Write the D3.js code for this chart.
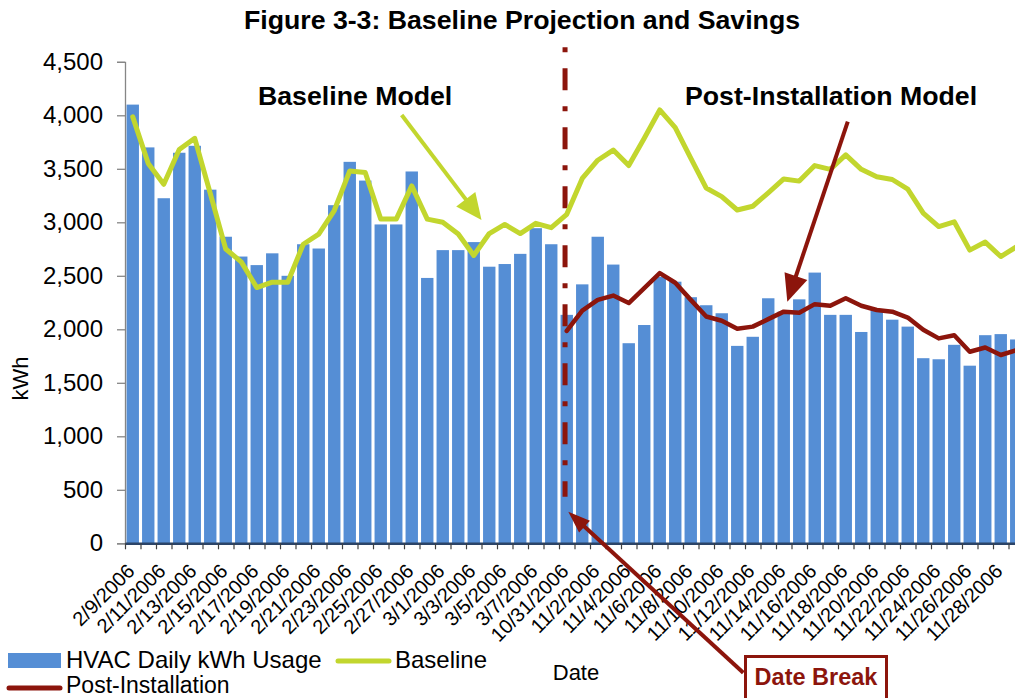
<!DOCTYPE html>
<html>
<head>
<meta charset="utf-8">
<script src="https://cdn.jsdelivr.net/npm/d3@7/dist/d3.min.js"></script>
<style>
  html, body { margin: 0; padding: 0; background: #fff; }
  svg { display: block; font-family: "Liberation Sans", Arial, sans-serif; }
</style>
</head>
<body>
<svg id="chart" width="1015" height="698"></svg>
<script>
// ---- Data ----
const dates = [
  "2/9/2006","2/10/2006","2/11/2006","2/12/2006","2/13/2006","2/14/2006","2/15/2006","2/16/2006",
  "2/17/2006","2/18/2006","2/19/2006","2/20/2006","2/21/2006","2/22/2006","2/23/2006","2/24/2006",
  "2/25/2006","2/26/2006","2/27/2006","2/28/2006","3/1/2006","3/2/2006","3/3/2006","3/4/2006",
  "3/5/2006","3/6/2006","3/7/2006","3/8/2006",
  "10/31/2006","11/1/2006","11/2/2006","11/3/2006","11/4/2006","11/5/2006","11/6/2006","11/7/2006",
  "11/8/2006","11/9/2006","11/10/2006","11/11/2006","11/12/2006","11/13/2006","11/14/2006","11/15/2006",
  "11/16/2006","11/17/2006","11/18/2006","11/19/2006","11/20/2006","11/21/2006","11/22/2006","11/23/2006",
  "11/24/2006","11/25/2006","11/26/2006","11/27/2006","11/28/2006","11/29/2006"
];
const hvacUsage = [
  4100,3700,3225,3650,3715,3305,2865,2680,2600,2710,2500,2795,2755,3160,3565,3390,
  2980,2980,3475,2480,2740,2740,2815,2585,2610,2705,2945,2795,
  2135,2420,2865,2605,1870,2040,2490,2445,2300,2225,2150,1845,1930,2290,2165,2280,
  2530,2135,2135,1975,2180,2090,2025,1730,1720,1855,1660,1945,1955,1905
];
const baseline = [
  3985,3550,3355,3680,3785,3270,2750,2630,2390,2440,2440,2795,2890,3110,3480,3465,
  3030,3030,3340,3030,3000,2890,2690,2895,2980,2895,2990,2950,
  3075,3410,3580,3675,3530,3785,4050,3885,3600,3320,3240,3115,3150,3275,3405,3385,
  3530,3495,3630,3495,3425,3400,3310,3085,2960,3005,2740,2815,2680,2770
];
const postDates = dates.slice(28);
const postInstallation = [
  1985,2175,2275,2315,2245,2385,2525,2435,2275,2120,2080,2005,2025,2095,2165,2155,
  2235,2220,2290,2220,2180,2165,2110,1995,1915,1945,1790,1830,1760,1805
];
const yTicks = [0,500,1000,1500,2000,2500,3000,3500,4000,4500];
const xTickLabels = dates.filter((d, i) => i % 2 === 0);

// ---- Colours ----
const BLUE = "#558ED5", GREEN = "#C2D62E", RED = "#8C150C";

const svg = d3.select("#chart");
const plotLeft = 125, plotTop = 61.8, plotBottom = 543.3;
const step = 15.5;
const plotRight = plotLeft + dates.length * step;

const x = d3.scaleBand().domain(dates).range([plotLeft, plotRight]).paddingInner(0.2).paddingOuter(0.1);
const xi = d3.scaleLinear().domain([0, dates.length]).range([plotLeft, plotRight]); // index space
const y = d3.scaleLinear().domain([0, 4500]).range([plotBottom, plotTop]);
const cx = d => x(d) + x.bandwidth() / 2;

// Title
svg.append("text").attr("x", 522).attr("y", 29).attr("text-anchor", "middle")
  .attr("font-size", 26.7).attr("font-weight", "bold").attr("fill", "#000")
  .text("Figure 3-3: Baseline Projection and Savings");

// Bars
svg.append("g").selectAll("rect").data(dates).join("rect")
  .attr("x", d => x(d)).attr("width", x.bandwidth())
  .attr("y", (d, i) => y(hvacUsage[i])).attr("height", (d, i) => y(0) - y(hvacUsage[i]))
  .attr("fill", BLUE);

// Y axis
const yAxis = svg.append("g").attr("transform", `translate(${plotLeft},0)`)
  .call(d3.axisLeft(y).tickValues(yTicks).tickFormat(d3.format(",")).tickSize(8).tickPadding(14));
yAxis.select(".domain").attr("stroke", "#868686").attr("stroke-width", 1.3);
yAxis.selectAll(".tick line").attr("stroke", "#868686").attr("stroke-width", 1.3);
yAxis.selectAll(".tick text").attr("font-size", 24).attr("fill", "#000")
  .attr("font-family", "Liberation Sans, Arial, sans-serif");

// X axis ticks at category boundaries
const xAxis = svg.append("g").attr("transform", `translate(0,${plotBottom})`)
  .call(d3.axisBottom(xi).tickValues(d3.range(0, dates.length + 1)).tickFormat("").tickSize(6).tickSizeOuter(0));
xAxis.select(".domain").attr("stroke", "#2B4468").attr("stroke-width", 2.5);
xAxis.selectAll(".tick line").attr("stroke", "#404040").attr("stroke-width", 1.2);

// X tick labels
svg.append("g").selectAll("text").data(xTickLabels).join("text")
  .attr("transform", d => `translate(${cx(d) + 3},${plotBottom + 29}) rotate(-45)`)
  .attr("text-anchor", "end").attr("font-size", 20).attr("fill", "#000")
  .text(d => d);

// Axis titles
svg.append("text").attr("transform", `translate(28,${(plotTop + plotBottom) / 2 + 76}) rotate(-90)`)
  .attr("text-anchor", "middle").attr("font-size", 22).text("kWh");
svg.append("text").attr("x", 576).attr("y", 680).attr("text-anchor", "middle")
  .attr("font-size", 22).text("Date");

// Date-break dashed line
svg.append("line")
  .attr("x1", xi(28.39)).attr("x2", xi(28.39)).attr("y1", y(4635)).attr("y2", y(436))
  .attr("stroke", RED).attr("stroke-width", 5).attr("stroke-dasharray", "5,16,22,16");

// Lines
const lineGen = d3.line().x(d => cx(d.date)).y(d => y(d.v));
svg.append("path")
  .datum(dates.map((d, i) => ({ date: d, v: baseline[i] })))
  .attr("d", lineGen).attr("fill", "none").attr("stroke", GREEN).attr("stroke-width", 5)
  .attr("stroke-linejoin", "round").attr("stroke-linecap", "round");
svg.append("path")
  .datum(postDates.map((d, i) => ({ date: d, v: postInstallation[i] })))
  .attr("d", lineGen).attr("fill", "none").attr("stroke", RED).attr("stroke-width", 4.5)
  .attr("stroke-linejoin", "round").attr("stroke-linecap", "round");

// Arrow helper
function arrow(x1, y1, x2, y2, color, w, headL, headW) {
  const dx = x2 - x1, dy = y2 - y1, len = Math.hypot(dx, dy);
  const ux = dx / len, uy = dy / len, nx = -uy, ny = ux;
  const bx = x2 - ux * headL, by = y2 - uy * headL;
  svg.append("line").attr("x1", x1).attr("y1", y1).attr("x2", bx + ux * 2).attr("y2", by + uy * 2)
    .attr("stroke", color).attr("stroke-width", w);
  svg.append("path")
    .attr("d", `M${x2},${y2}L${bx + nx * headW / 2},${by + ny * headW / 2}L${bx - nx * headW / 2},${by - ny * headW / 2}Z`)
    .attr("fill", color);
}

// Annotations
svg.append("text").attr("x", 258).attr("y", 105).attr("font-size", 26.7).attr("font-weight", "bold").text("Baseline Model");
arrow(xi(17.85), y(4003), xi(23.0), y(3022), GREEN, 4, 26, 24);

svg.append("text").attr("x", 685).attr("y", 105).attr("font-size", 26.7).attr("font-weight", "bold").text("Post-Installation Model");
arrow(xi(46.63), y(3940), xi(42.73), y(2258), RED, 4, 27, 24);

arrow(xi(39.89), y(-1209), xi(28.6), y(295), RED, 4, 22, 16);
svg.append("rect").attr("x", 745.5).attr("y", 656.5).attr("width", 141).attr("height", 44)
  .attr("fill", "#fff").attr("stroke", RED).attr("stroke-width", 3);
svg.append("text").attr("x", 816).attr("y", 685).attr("text-anchor", "middle")
  .attr("font-size", 23.5).attr("font-weight", "bold").attr("fill", RED).text("Date Break");

// Legend
const lg = svg.append("g");
lg.append("rect").attr("x", 8).attr("y", 653).attr("width", 53).attr("height", 15).attr("fill", BLUE);
lg.append("text").attr("x", 66).attr("y", 668).attr("font-size", 24).text("HVAC Daily kWh Usage");
lg.append("line").attr("x1", 338).attr("x2", 389).attr("y1", 661).attr("y2", 661)
  .attr("stroke", GREEN).attr("stroke-width", 5).attr("stroke-linecap", "round");
lg.append("text").attr("x", 395).attr("y", 668).attr("font-size", 24).text("Baseline");
lg.append("line").attr("x1", 9).attr("x2", 60).attr("y1", 688).attr("y2", 688)
  .attr("stroke", RED).attr("stroke-width", 5).attr("stroke-linecap", "round");
lg.append("text").attr("x", 66).attr("y", 693).attr("font-size", 23).text("Post-Installation");
</script>
</body>
</html>
